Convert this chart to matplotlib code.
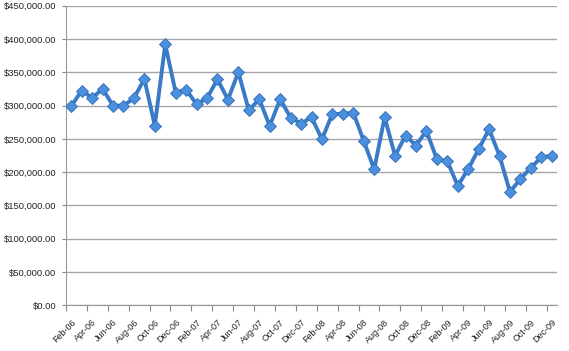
import matplotlib.pyplot as plt
from matplotlib.ticker import FuncFormatter

plt.rcParams['font.family'] = ['Liberation Sans', 'DejaVu Sans']

# monthly values, Feb-06 .. Dec-09
months = ["Feb-06", "Mar-06", "Apr-06", "May-06", "Jun-06", "Jul-06", "Aug-06", "Sep-06",
          "Oct-06", "Nov-06", "Dec-06", "Jan-07", "Feb-07", "Mar-07", "Apr-07", "May-07",
          "Jun-07", "Jul-07", "Aug-07", "Sep-07", "Oct-07", "Nov-07", "Dec-07", "Jan-08",
          "Feb-08", "Mar-08", "Apr-08", "May-08", "Jun-08", "Jul-08", "Aug-08", "Sep-08",
          "Oct-08", "Nov-08", "Dec-08", "Jan-09", "Feb-09", "Mar-09", "Apr-09", "May-09",
          "Jun-09", "Jul-09", "Aug-09", "Sep-09", "Oct-09", "Nov-09", "Dec-09"]
values = [299000, 322500, 311500, 325000, 300000, 300000, 311000, 340000,
          270000, 392000, 319500, 324000, 302000, 311000, 339500, 309000,
          350000, 293000, 309500, 269500, 309500, 282000, 273000, 282500,
          249500, 287500, 287500, 289500, 247000, 204000, 282500, 224500,
          255000, 240000, 262000, 219500, 216500, 179500, 204500, 234500,
          264500, 224500, 170000, 190000, 206500, 222500, 224500]
y_ticks = list(range(0, 450001, 50000))

fig = plt.figure(figsize=(5.69, 3.51), dpi=100)
ax = fig.add_axes([66 / 569, (351 - 305.3) / 351, (557 - 66) / 569, 299.6 / 351])

x = list(range(len(values)))
ax.plot(x, values, color="#3A7BC8", linewidth=2.8, marker="D", markersize=6.2,
        markerfacecolor="#4A90DE", markeredgecolor="#2F6DB5", markeredgewidth=0.6,
        solid_joinstyle="miter", zorder=3)

ax.set_xlim(-0.5, len(values) - 0.5)
ax.set_ylim(0, 450000)
ax.set_yticks(y_ticks)
ax.yaxis.set_major_formatter(FuncFormatter(lambda v, p: "${:,.2f}".format(v)))
ax.grid(axis="y", color="#A6A6A6", linewidth=1.0)
ax.set_axisbelow(True)

ax.set_xticks([i - 0.5 for i in range(0, len(values) + 1, 2)])
ax.set_xticklabels([])
ax.set_xticks(x[::2], minor=True)
ax.set_xticklabels(months[::2], minor=True, rotation=45, ha="right",
                   rotation_mode="anchor", fontsize=6.5, color="#222222")
ax.tick_params(axis="x", which="minor", length=0, pad=9)
ax.tick_params(axis="x", which="major", length=4, color="#888888")
ax.tick_params(axis="y", length=3, color="#888888", labelsize=6.8, labelcolor="#222222", pad=4)

for s in ["top", "right"]:
    ax.spines[s].set_visible(False)
for s in ["left", "bottom"]:
    ax.spines[s].set_color("#999999")

fig.savefig("out.png", dpi=100)
